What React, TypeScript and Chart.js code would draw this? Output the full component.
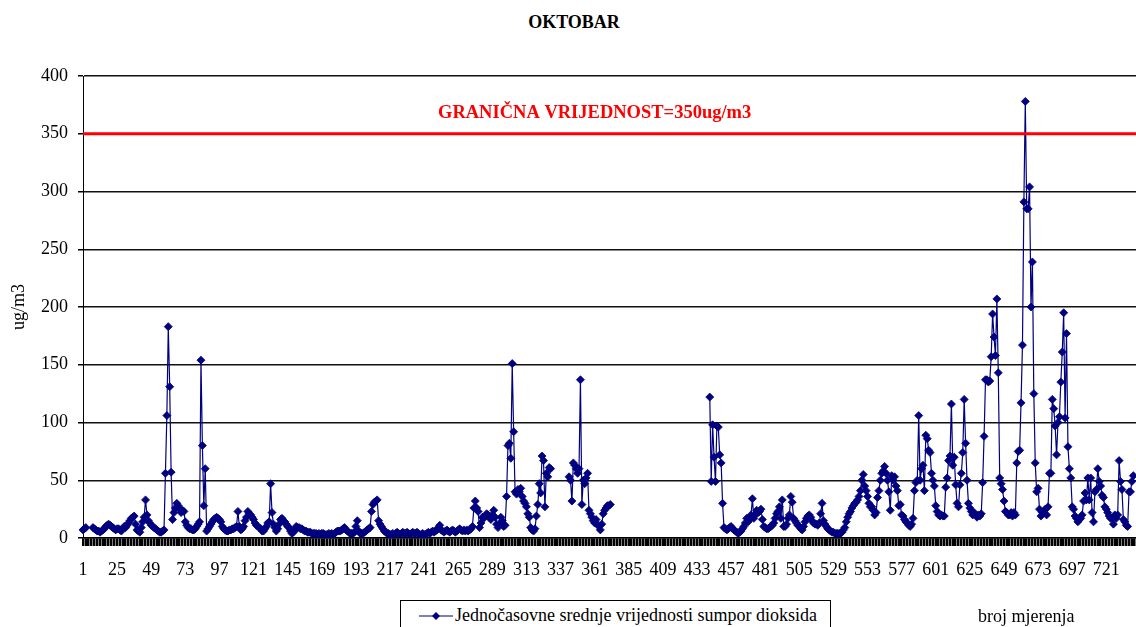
import { useEffect, useRef } from 'react';
import { Chart, registerables } from 'chart.js';

Chart.register(...registerables);

const _ = null;

// Hourly SO2 values (ug/m3), hours 1..744 of October
const part1 = [
  7, 8, 9, _, _, _, _, 9, 8, 7, 6, 6, 5, 6, 7, 8, 10, 11, 12, 11, 10, 9, 8, 7, 8,
  8, 7, 6, 8, 10, 9, 11, 13, 15, 17, 18, 19, 12, 7, 6, 5, 9, 14, 18, 33, 20, 15, 13, 11,
  10, 9, 8, 7, 6, 5, 5, 6, 7, 56, 106, 183, 131, 57, 16, 22, 26, 30, 28, 25, 22, 24, 23, 14,
  11, 9, 8, 8, 7, 7, 8, 10, 12, 14, 154, 80, 28, 60, 6, 8, 10, 12, 14, 16, 17, 18, 17, 16,
];
const part2 = [
  14, 10, 8, 7, 6, 6, 7, 7, 8, 8, 9, 10, 23, 10, 7, 8, 10, 15, 18, 23, 21, 20, 18, 16,
  13, 11, 10, 9, 8, 6, 6, 8, 10, 13, 14, 47, 22, 12, 9, 6, 8, 12, 16, 17, 15, 14, 12, 10,
  9, 6, 4, 5, 7, 10, 9, 9, 8, 8, 7, 6, 6, 5, 5, 5, 4, 4, 4, 4, 3, 4, 3, 4,
  4, 3, 3, 3, 4, 3, 4, 3, 4, 5, 6, 6, 6, 7, 8, 9, 7, 6, 5, 4, 4, 4, 5, 10, 15,
];
const part3 = [
  6, 4, 4, 4, 5, 6, 7, 8, 9, 23, 29, 31, 32, 33, 15, 12, 10, 8, 6, 5, 4, 4, 3, 3,
  4, 3, 4, 5, 4, 3, 4, 5, 4, 4, 5, 4, 3, 4, 5, 4, 4, 5, 4, 3, 3, 4, 3, 3,
  4, 5, 4, 5, 6, 5, 6, 7, 9, 11, 7, 6, 5, 6, 7, 6, 5, 6, 7, 6, 5, 6, 7, 8,
  7, 6, 7, 6, 7, 6, 7, 8, 10, 26, 32, 26, 23, 9, 13, 18, 17, 19, 21, 20, 18, 16, 20, 24,
];
const part4 = [
  18, 12, 9, 12, 18, 15, 10, 11, 36, 80, 82, 69, 151, 92, 40, 38, 42, 40, 43, 36, 32, 30, 27, 21,
  18, 9, 7, 6, 8, 19, 29, 47, 39, 71, 67, 27, 56, 53, 61, 60, _, _, _, _, _, _, _, _,
  _, _, _, _, 53, 50, 32, 65, 63, 60, 56, 60, 137, 29, 50, 47, 52, 56, 24, 21, 18, 15, 13, 16,
  12, 10, 7, 12, 21, 24, 26, 28, 28, 29, _, _, _, _, _, _, _, _, _, _, _, _, _, _,
];
const gapPart = [
  _, _, _, _, _, _, _, _, _, _, _, _, _, _, _, _, _, _, _, _, _, _, _, _, _,
  _, _, _, _, _, _, _, _, _, _, _, _, _, _, _, _, _, _, _, _, _, _, _, _,
];
const part6 = [
  _, _, _, _, _, _, 122, 49, 98, 70, 49, 97, 96, 72, 65, 30, 9, 8, 7, 8, 9, 10, 8, 7,
  6, 5, 4, 5, 6, 8, 10, 13, 17, 14, 16, 20, 34, 17, 20, 24, 22, 23, 25, 16, 10, 9, 8, 8,
  9, 10, 11, 13, 17, 21, 23, 27, 17, 33, 10, 10, 12, 17, 20, 36, 31, 17, 15, 13, 11, 10, 8, 7,
  10, 14, 17, 19, 20, 18, 15, 13, 12, 12, 11, 13, 21, 30, 15, 12, 10, 8, 7, 6, 5, 5, 4, 4,
];
const part7 = [
  4, 4, 4, 5, 7, 9, 14, 18, 21, 23, 26, 28, 30, 31, 33, 36, 41, 50, 55, 45, 41, 36, 30, 27, 27,
  24, 20, 22, 35, 41, 50, 56, 58, 62, 56, 50, 40, 24, 54, 50, 53, 45, 41, 28, 29, 20, 19, 16, 14,
  13, 11, 10, 12, 17, 41, 48, 50, 106, 50, 60, 63, 41, 89, 86, 76, 74, 56, 50, 45, 28, 23, 20, 19,
  20, 19, 19, 44, 52, 67, 71, 116, 63, 70, 46, 30, 27, 46, 56, 74, 120, 82, 50, 30, 26, 23, 20, 22,
];
const part8 = [
  20, 18, 20, 19, 21, 48, 88, 137, 137, 135, 136, 157, 194, 174, 158, 207, 143, 52, 47, 42, 32, 23, 22, 20,
  20, 22, 19, 22, 20, 65, 75, 76, 117, 167, 291, 378, 285, 285, 304, 200, 239, 125, 65, 40, 43, 25, 19, 22,
  22, 25, 20, 27, 56, 56, 120, 112, 97, 72, 100, 105, 135, 161, 195, 104, 177, 79, 60, 52, 27, 25, 19, 17,
  14, 16, 17, 20, 32, 39, 33, 52, 33, 52, 22, 14, 40, 42, 60, 49, 45, 37, 35, 27, 25, 22, 19, 17,
  17, 12, 20, 17, 20, 67, 49, 42, 16, 14, 11, 10, 40, 40, 49, 54, _, _, _, _,
];

const values: (number | null)[] = [
  ...part1, ...part2, ...part3, ...part4, ...gapPart, ...part6, ...part7, ...part8,
];
const categories = values.map((_v, i) => String(i + 1));
const LABEL_EVERY = 24;
const Y_MIN = 0;
const Y_MAX = 400;
const Y_STEP = 50;
const LIMIT = 350;
const LIMIT_TEXT = 'GRANIČNA VRIJEDNOST=350ug/m3';
const TITLE = 'OKTOBAR';
const SERIES_NAME = 'Jednočasovne srednje vrijednosti sumpor dioksida';
const X_TITLE = 'broj mjerenja';
const Y_TITLE = 'ug/m3';

const SERIF = '"Liberation Serif", "Times New Roman", serif';
const NAVY = '#000080';

const limitPlugin = {
  id: 'limitLine',
  afterDatasetsDraw(chart: any) {
    const { ctx, chartArea, scales } = chart;
    const y = scales.y.getPixelForValue(LIMIT);
    ctx.save();
    ctx.strokeStyle = '#ff0000';
    ctx.lineWidth = 3;
    ctx.beginPath();
    ctx.moveTo(chartArea.left, y);
    ctx.lineTo(chartArea.right, y);
    ctx.stroke();
    ctx.fillStyle = '#ff0000';
    ctx.font = 'bold 18.5px ' + SERIF;
    ctx.textBaseline = 'middle';
    ctx.textAlign = 'left';
    ctx.fillText(LIMIT_TEXT, 438, y - 21);
    ctx.restore();
  },
};

export default function App() {
  const ref = useRef<HTMLCanvasElement | null>(null);

  useEffect(() => {
    if (!ref.current) return;
    const chart = new Chart(ref.current, {
      type: 'line',
      data: {
        labels: categories,
        datasets: [
          {
            label: SERIES_NAME,
            data: values,
            borderColor: NAVY,
            backgroundColor: NAVY,
            borderWidth: 1.2,
            pointStyle: 'rectRot',
            pointRadius: 4,
            pointBorderWidth: 0.8,
            pointBorderColor: NAVY,
            pointBackgroundColor: NAVY,
            spanGaps: false,
            tension: 0,
          },
        ],
      },
      options: {
        responsive: false,
        animation: false,
        events: [],
        layout: { padding: { top: 76, right: 21, bottom: 0, left: 0 } },
        plugins: {
          legend: { display: false },
          title: { display: false },
          tooltip: { enabled: false },
        },
        scales: {
          x: {
            type: 'category',
            offset: false,
            afterFit: (scale: any) => {
              scale.height = 89;
            },
            border: { display: true, color: '#000', width: 1.5 },
            grid: {
              display: true,
              drawOnChartArea: false,
              drawTicks: true,
              tickLength: 8,
              color: (c: any) => (c.index % 2 === 0 ? '#000' : 'rgba(0,0,0,0)'),
              lineWidth: 2.5,
            },
            ticks: {
              autoSkip: false,
              maxRotation: 0,
              minRotation: 0,
              padding: 13,
              color: '#000',
              font: { family: SERIF, size: 18 },
              callback: (_val: any, index: number) =>
                index % LABEL_EVERY === 0 ? categories[index] : '',
            },
          },
          y: {
            min: Y_MIN,
            max: Y_MAX,
            afterFit: (scale: any) => {
              scale.width = 83;
            },
            border: { display: true, color: '#000', width: 1 },
            grid: {
              color: '#111',
              lineWidth: 1.5,
              tickLength: 5,
              drawTicks: true,
              tickColor: '#000',
            },
            ticks: {
              stepSize: Y_STEP,
              padding: 10,
              color: '#000',
              font: { family: SERIF, size: 18 },
            },
            title: {
              display: true,
              text: Y_TITLE,
              color: '#000',
              font: { family: SERIF, size: 18 },
              padding: { top: 8, bottom: 0 },
            },
          },
        },
      },
      plugins: [limitPlugin],
    });
    return () => chart.destroy();
  }, []);

  return (
    <div
      style={{
        position: 'fixed',
        left: 0,
        top: 0,
        width: 1136,
        height: 627,
        overflow: 'hidden',
        background: '#fff',
      }}
    >
      <div
        style={{
          position: 'absolute',
          left: 0,
          width: 1148,
          top: 11,
          textAlign: 'center',
          fontFamily: SERIF,
          fontWeight: 'bold',
          fontSize: 18,
          lineHeight: '22px',
          color: '#000',
        }}
      >
        {TITLE}
      </div>
      <canvas
        ref={ref}
        width={1160}
        height={627}
        style={{ position: 'absolute', left: 0, top: 0, width: 1160, height: 627 }}
      />
      <div
        style={{
          position: 'absolute',
          left: 400,
          top: 600,
          width: 431,
          height: 40,
          border: '1px solid #000',
          background: '#fff',
          boxSizing: 'border-box',
        }}
      >
        <svg
          width={40}
          height={20}
          style={{ position: 'absolute', left: 16, top: 5 }}
        >
          <line x1={2} y1={10} x2={36} y2={10} stroke={NAVY} strokeWidth={1.2} />
          <polygon points="19,6 23,10 19,14 15,10" fill={NAVY} />
        </svg>
        <div
          style={{
            position: 'absolute',
            left: 54,
            top: 3,
            whiteSpace: 'nowrap',
            fontFamily: SERIF,
            fontSize: 18,
            lineHeight: '22px',
            color: '#000',
          }}
        >
          {SERIES_NAME}
        </div>
      </div>
      <div
        style={{
          position: 'absolute',
          left: 978,
          top: 605,
          whiteSpace: 'nowrap',
          fontFamily: SERIF,
          fontSize: 18,
          lineHeight: '22px',
          color: '#000',
        }}
      >
        {X_TITLE}
      </div>
    </div>
  );
}
